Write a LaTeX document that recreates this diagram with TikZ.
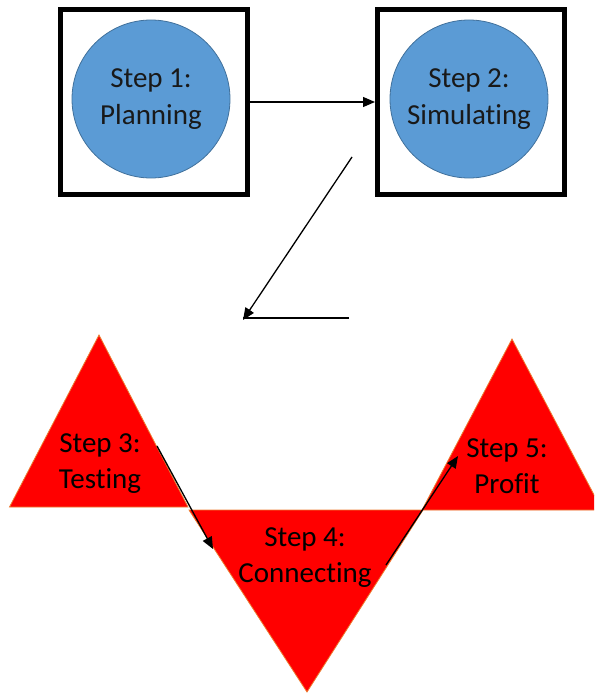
\documentclass[tikz,border=0pt]{standalone}
\usepackage{fontspec}
\setmainfont{Carlito}[Ligatures=NoCommon]
\usepackage{tikz}
\usetikzlibrary{arrows.meta,positioning}
\definecolor{stepblue}{RGB}{91,155,213}
\definecolor{stepblueline}{RGB}{65,113,156}
\definecolor{stepred}{RGB}{255,0,0}
\definecolor{steporange}{RGB}{237,125,49}

\begin{document}
\begin{tikzpicture}[x=1pt, y=-1pt,
  frame/.style={draw=black, line width=5pt, minimum width=187pt, minimum height=185pt},
  disc/.style={circle, draw=stepblueline, line width=0.8pt, fill=stepblue, minimum size=158pt,
               inner sep=0pt, align=center, text=black!90, font=\fontsize{29}{37}\selectfont},
  tri/.style={fill=stepred, draw=steporange, line width=0.8pt},
  lbl/.style={align=center, inner sep=0pt, font=\fontsize{29}{36}\selectfont},
  arr/.style={-{Triangle[length=12pt, width=10pt]}, line width=1.3pt}
]
  \useasboundingbox (0,0) rectangle (594,693);
  \clip (0,0) rectangle (594,693);
  % top row
  \node[frame] (box1) at (154,102) {};
  \node[frame] (box2) at (471,102) {};
  \node[disc] (c1) at (151,99) {Step 1:\\ Planning};
  \node[disc] (c2) at (469,99) {Step 2:\\ Simulating};
  \draw[arr] (box1.east) -- (box2.west);
  \coordinate (d1) at (352,157);
  \coordinate (d2) at (243,320);
  \coordinate (h1) at (349,318);
  \draw[arr] (d1) -- (d2);
  \draw[line width=1.3pt] (h1) -- (d2 |- h1);
  % bottom row
  \draw[tri] (9.5,507) -- (99,335) -- (188,507) -- cycle;
  \draw[tri] (189,510) -- (423,510) -- (307,692) -- cycle;
  \draw[tri] (422,510) -- (512,339) -- (602,510) -- cycle;
  \node[lbl] (s3) at (100,464) {Step 3:\\ Testing};
  \node[lbl] (s4) at (305,558) {Step 4:\\ Connecting};
  \node[lbl] (s5) at (507,466) {Step 5:\\ Profit};
  \coordinate (a3) at (157,446);
  \coordinate (a4) at (213,549);
  \coordinate (b4) at (386,565);
  \coordinate (b5) at (458,456);
  \draw[arr] (a3) -- (a4);
  \draw[arr] (b4) -- (b5);
\end{tikzpicture}
\end{document}
